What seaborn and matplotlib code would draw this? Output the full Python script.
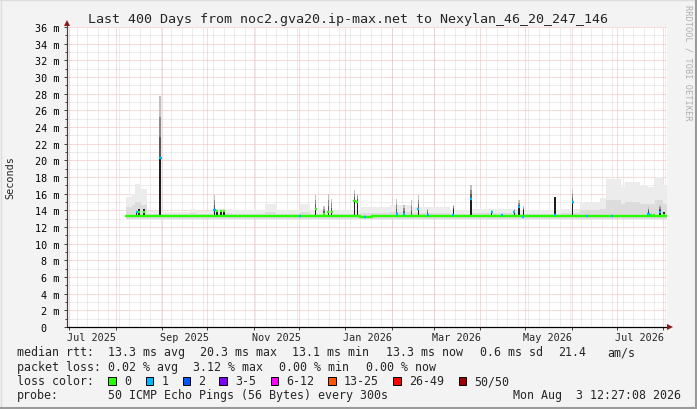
import numpy as np
import pandas as pd
import matplotlib
matplotlib.use("Agg")
import matplotlib.pyplot as plt
import seaborn as sns
from matplotlib.lines import Line2D
from matplotlib.patches import Rectangle

# ---------------- data (days since start, values in ms) ----------------
START = pd.Timestamp("2025-06-29 12:27:08")
SPAN_DAYS = 400

# light smoke envelope (max ping), step bins
smoke_edges = [39, 43, 45, 49, 53, 61, 63, 82, 86, 97, 110, 132, 139, 155, 162, 189,
               195, 215, 229, 255, 269, 302, 329, 342, 355, 359, 369, 372, 382, 387,
               392, 397, 400]
smoke_top = [15.6, 16.0, 17.2, 16.6, 13.9, 13.9, 13.8, 14.2, 13.9, 14.2, 14.0, 14.8,
             14.1, 14.8, 14.0, 14.0, 14.4, 14.6, 14.4, 14.0, 14.2, 14.0, 14.2, 15.0,
             15.5, 17.8, 16.8, 17.4, 17.0, 16.8, 18.0, 17.0]
smoke_mid = [14.4, 14.6, 15.0, 14.6, 13.6, 13.6, 13.6, 13.7, 13.6, 13.7, 13.6, 13.8,
             13.6, 13.8, 13.6, 13.6, 13.7, 13.8, 13.7, 13.6, 13.7, 13.6, 13.7, 14.0,
             14.2, 15.2, 14.8, 15.0, 14.8, 14.8, 15.2, 14.8]

# median rtt baseline (step)
median_day = [39.3, 195, 203, 400]
median_val = [13.3, 13.15, 13.3, 13.3]

# individual spikes
spike_day = [46.5, 48.0, 51.3, 62.3, 98.3, 100.0, 102.7, 104.7, 155.3, 165.8, 171.3,
             174.2, 176.5, 191.7, 193.5, 198.7, 219.8, 224.7, 229.8, 234.2, 240.5,
             257.5, 269.3, 283.1, 290.2, 298.2, 301.3, 304.2, 325.3, 337.1, 346.5,
             363.5, 387.7, 389.3, 391.3, 395.3, 398.0]
spike_dark = [13.8, 14.2, 14.2, 20.3, 14.0, 13.9, 13.9, 13.9, 13.3, 14.2, 13.6,
              13.8, 13.8, 15.2, 15.1, 13.15, 13.6, 13.6, 13.3, 14.2, 13.6,
              14.2, 15.4, 13.8, 13.4, 13.8, 14.4, 14.0, 15.6, 15.0, 13.3,
              13.3, 13.8, 13.6, 13.4, 14.0, 13.8]
spike_top = [13.8, 14.2, 14.2, 27.7, 15.8, 13.9, 13.9, 13.9, 13.3, 15.8, 14.5,
             16.0, 15.4, 16.4, 16.0, 13.15, 15.4, 14.6, 15.2, 15.8, 14.2,
             14.6, 17.0, 14.0, 13.4, 14.2, 15.2, 14.5, 15.6, 16.4, 13.3,
             13.3, 14.4, 13.6, 13.4, 14.6, 13.8]
spike_med = [13.8, 13.8, 13.8, 20.3, 14.0, 13.9, 13.9, 13.9, 13.3, 14.2, 13.6,
             13.8, 13.8, 15.1, 15.0, 13.15, 13.6, 13.6, 13.3, 14.2, 13.4,
             13.4, 15.4, 13.8, 13.4, 13.8, 14.4, 13.2, 13.4, 15.0, 13.3,
             13.3, 13.6, 13.5, 13.4, 13.8, 13.5]
spike_loss = [1, 0, 0, 1, 1, 0, 0, 0, 1, 0, 0,
              0, 0, 0, 0, 1, 1, 1, 0, 1, 1,
              1, 1, 1, 1, 1, 1, 1, 1, 1, 1,
              1, 1, 0, 0, 1, 0]

loss_labels = ["0", "1", "2", "3-5", "6-12", "13-25", "26-49", "50/50"]
loss_colors = ["#26ff00", "#00b8ff", "#0059ff", "#7e00ff", "#ff00ff", "#ff5500",
               "#ff0000", "#a00000"]

y_ticks = list(range(0, 37, 2))
x_label_months = ["2025-07-01", "2025-09-01", "2025-11-01", "2026-01-01",
                  "2026-03-01", "2026-05-01", "2026-07-01"]
x_tick_labels = ["Jul 2025", "Sep 2025", "Nov 2025", "Jan 2026", "Mar 2026",
                 "May 2026", "Jul 2026"]

title = "Last 400 Days from noc2.gva20.ip-max.net to Nexylan_46_20_247_146"

# ---------------- figure ----------------
sns.set_style("white")
plt.rcParams["font.family"] = ["DejaVu Sans Mono", "DejaVu Sans"]

W, H = 697, 410
fig = plt.figure(figsize=(W / 100, H / 100), dpi=100, facecolor="#f3f3f3")
ax = fig.add_axes([67 / W, (H - 328) / H, 600 / W, 300 / H])
ax.set_facecolor("white")
ax.set_xlim(0, SPAN_DAYS)
ax.set_ylim(0, 36)


def day_of(ts):
    return (pd.Timestamp(ts) - START) / pd.Timedelta(days=1)


def fx(x):
    return x / W


def fy(y):
    return 1 - y / H


dot = (0, (1, 1))
RED_GRID = "#f2b6b6"
GRAY_GRID = "#dadada"
gkw = dict(lw=0.72, ls=dot, antialiased=True, snap=True)
# horizontal grid
for v in range(1, 37):
    ax.axhline(v, color=RED_GRID if v % 2 == 0 else GRAY_GRID, zorder=0, **gkw)
# vertical grid
weeks = pd.date_range(START, START + pd.Timedelta(days=SPAN_DAYS), freq="W-SUN").normalize()
months = pd.date_range("2025-07-01", "2026-08-01", freq="MS")
for w in weeks:
    d = day_of(w)
    if 0 < d < SPAN_DAYS:
        ax.axvline(d, color=GRAY_GRID, zorder=0, **gkw)
month_days = [day_of(m) for m in months if 0 < day_of(m) < SPAN_DAYS]
for d in month_days:
    ax.axvline(d, color=RED_GRID, zorder=0.1, **gkw)

# smoke
ax.stairs(smoke_top, smoke_edges, baseline=13.0, fill=True, color="#ececec", zorder=1)
ax.stairs(smoke_mid, smoke_edges, baseline=13.0, fill=True, color="#dcdcdc", zorder=1.1)

# spikes: dark core + fading smoke above
shades = ["#5a5a5a", "#8c8c8c", "#c0c0c0"]
for d, dk, tp in zip(spike_day, spike_dark, spike_top):
    w = 1.4 if tp > 20 else 0.9
    if dk > 13.3:
        ax.bar(d, dk - 13.2, bottom=13.2, width=w, color="#1e1e1e", lw=0, zorder=2)
    if tp > dk:
        seg = (tp - dk) / 3
        for i, c in enumerate(shades):
            ax.bar(d, seg, bottom=dk + i * seg, width=w, color=c, lw=0, zorder=2)

# median line
mdf = pd.DataFrame({"day": median_day, "median": median_val})
sns.lineplot(data=mdf, x="day", y="median", drawstyle="steps-post", color=loss_colors[0],
             lw=1.7, ax=ax, zorder=3, estimator=None)
for d, m, l in zip(spike_day, spike_med, spike_loss):
    ax.hlines(m, d - 0.75, d + 0.75, colors=loss_colors[l], lw=1.7, zorder=4)

# axes / ticks
for s in ["top", "right"]:
    ax.spines[s].set_visible(False)
ax.spines["left"].set_color("#404040")
ax.spines["bottom"].set_color("black")
ax.spines["left"].set_linewidth(0.8)
ax.spines["bottom"].set_linewidth(0.8)
ax.set_yticks(y_ticks)
ax.set_yticklabels(["0  "] + [f"{v} m" for v in y_ticks[1:]])
ax.set_yticks(range(1, 37, 2), minor=True)
ax.set_xticks([day_of(m) + 15 for m in x_label_months])
ax.set_xticklabels(x_tick_labels)
ax.set_xticks(month_days, minor=True)
ax.tick_params(axis="y", which="major", length=2.5, width=0.7, color="#404040",
               pad=3, labelsize=7.3, labelcolor="black", left=True)
ax.tick_params(axis="y", which="minor", length=1.5, width=0.7, color="#404040", left=True)
ax.tick_params(axis="x", which="major", length=0, pad=3.5, labelsize=7.3, bottom=True)
ax.tick_params(axis="x", which="minor", length=2.5, width=0.7, color="#404040", bottom=True)
ax.set_xlabel("")
ax.set_ylabel("")

# arrows extending axes
fig.add_artist(Line2D([fx(67), fx(67)], [fy(328), fy(24)], color="#404040", lw=0.8))
fig.add_artist(Line2D([fx(67), fx(670)], [fy(328), fy(328)], color="black", lw=0.8))
fig.add_artist(Line2D([fx(67)], [fy(24)], marker="^", ms=4.5, color="#8b1a1a", mew=0))
fig.add_artist(Line2D([fx(670)], [fy(328)], marker=">", ms=4.5, color="#8b1a1a", mew=0))

# texts
fig.text(0.5, fy(19), title, ha="center", va="center", fontsize=9.6)
fig.text(fx(10), fy(178), "Seconds", rotation=90, ha="center", va="center", fontsize=7.3)
fig.text(fx(688), fy(5), "RRDTOOL / TOBI OETIKER", rotation=270, ha="center", va="top",
         fontsize=6.2, color="#b0b0b0")

fs = 8.4
rows = {
    353: [(16.7, "median rtt:"), (107.7, "13.3 ms avg"), (200, "20.3 ms max"),
          (291.7, "13.1 ms min"), (386, "13.3 ms now"), (480, "0.6 ms sd"),
          (558, "21.4"), (607.7, "am/s")],
    368: [(16.7, "packet loss:"), (107.7, "0.02 % avg"), (193.3, "3.12 % max"),
          (279.3, "0.00 % min"), (365.7, "0.00 % now")],
    396: [(16.7, "probe:"), (107.7, "50 ICMP Echo Pings (56 Bytes) every 300s"),
          (513.3, "Mon Aug  3 12:27:08 2026")],
}
for y, items in rows.items():
    for x, s in items:
        fig.text(fx(x), fy(y), s, ha="left", va="center", fontsize=fs)

fig.text(fx(16.7), fy(382), "loss color:", ha="left", va="center", fontsize=fs)
box_x = [108.3, 145.7, 182.7, 219.3, 270.5, 328.3, 393.3, 458.5]
for bx, c, lab in zip(box_x, loss_colors, loss_labels):
    fig.add_artist(Rectangle((fx(bx), fy(385.5)), 7.5 / W, 7.5 / H, transform=fig.transFigure,
                             fc=c, ec="black", lw=0.7))
    fig.text(fx(bx + 15.5), fy(382), lab, ha="left", va="center", fontsize=fs)

# frame shading
fig.add_artist(Line2D([0, 1], [fy(0.5), fy(0.5)], color="#dcdcdc", lw=1))
fig.add_artist(Line2D([fx(0.5), fx(0.5)], [0, 1], color="#dcdcdc", lw=1))
fig.add_artist(Line2D([0, 1], [fy(409), fy(409)], color="#9a9a9a", lw=1.5))
fig.add_artist(Line2D([fx(696), fx(696)], [0, 1], color="#9a9a9a", lw=1.5))

fig.savefig("out.png", dpi=100, facecolor=fig.get_facecolor())
